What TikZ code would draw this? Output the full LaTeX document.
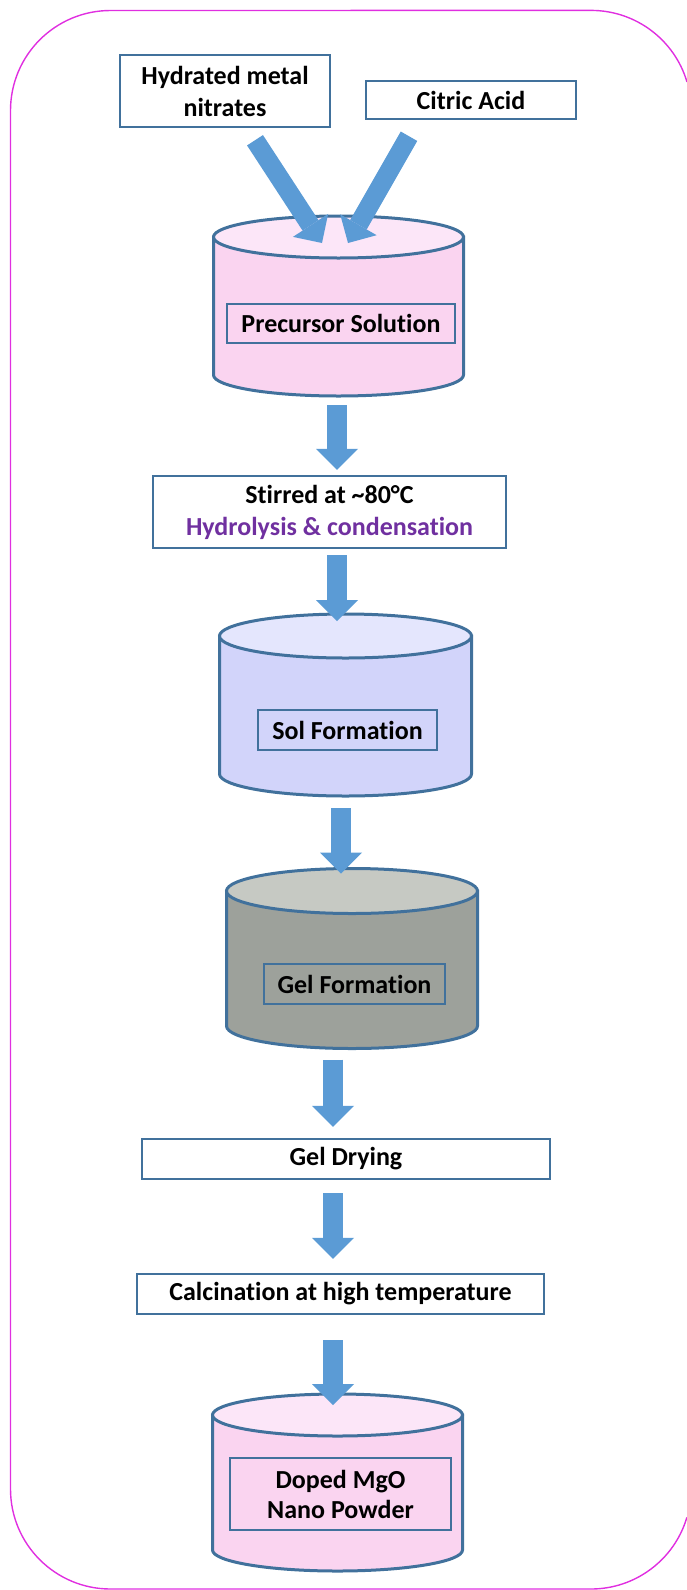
\documentclass[tikz,border=0pt]{standalone}
\usepackage{fontspec}
\setmainfont{Carlito}[Ligatures=NoCommon]
\usepackage{xcolor}
\definecolor{boxblue}{HTML}{41719C}
\definecolor{arrowblue}{HTML}{5B9BD5}
\definecolor{framepink}{HTML}{E02FE0}
\definecolor{pinkside}{HTML}{FAD4F0}
\definecolor{pinktop}{HTML}{FCE6F8}
\definecolor{lilacside}{HTML}{D2D4FA}
\definecolor{lilactop}{HTML}{E4E6FD}
\definecolor{greyside}{HTML}{9DA19B}
\definecolor{greytop}{HTML}{C6C9C3}
\definecolor{stepviolet}{HTML}{7030A0}
\usetikzlibrary{arrows.meta,positioning,calc}

\begin{document}
\begin{tikzpicture}[x=1pt,y=-1pt,
  stepbox/.style={draw=boxblue,line width=2.5pt,fill=white,align=center,inner sep=0pt,font=\bfseries\fontsize{26}{32}\selectfont},
  tagbox/.style={draw=boxblue,line width=1.8pt,align=center,inner sep=0pt,font=\bfseries\fontsize{26}{30}\selectfont},
  drumline/.style={draw=boxblue,line width=3pt},
  flow/.style={draw=arrowblue,line width=20pt,-{Triangle[width=42pt,length=21pt,line width=0pt]}}]
  \useasboundingbox (0,0) rectangle (687,1590);
  % outer frame, its right side runs off the page
  \draw[framepink,line width=1.4pt] (687,82) arc[start angle=-16.5,end angle=-90,radius=100]
    -- (110.5,10.5) arc[start angle=-90,end angle=-180,radius=100]
    -- (10.5,1489) arc[start angle=180,end angle=90,radius=100]
    -- (591,1589) arc[start angle=90,end angle=16.5,radius=100];

  % inputs
  \node[stepbox,minimum width=210pt,minimum height=72pt] (nitrates) at (225,91) {Hydrated metal\\nitrates};
  \node[stepbox,minimum width=210pt,minimum height=38pt] (citric) at (471,100) {Citric Acid};

  % precursor drum
  \filldraw[drumline,fill=pinkside] (213.5,237) -- (213.5,375) arc[start angle=180,end angle=0,x radius=125,y radius=21] -- (463.5,237) -- cycle;
  \filldraw[drumline,fill=pinktop] (338.5,237) ellipse[x radius=125,y radius=21];
  \coordinate (drumA-top) at (338.5,237);
  \coordinate (drumA-bot) at (338.5,396);
  \node[tagbox,fill=pinkside,minimum width=228pt,minimum height=39pt] (precursor) at (341,323.5) {Precursor Solution};
  \draw[flow,line width=19pt] ($(nitrates.south)+(30,12)$) -- ($(drumA-top)+(-16.5,6)$);
  \draw[flow,line width=19pt] ($(citric.south)+(-62,16)$) -- ($(drumA-top)+(9.5,6)$);

  % stirring
  \node[stepbox,minimum width=353pt,minimum height=72pt] (stir) at (329.5,512) {Stirred at \textasciitilde80°C\\\textcolor{stepviolet}{Hydrolysis \& condensation}};
  \draw[flow] ($(337,0 |- drumA-bot)+(0,9)$) -- ($(337,0 |- stir.north)+(0,-5)$);

  % sol drum
  \filldraw[drumline,fill=lilacside] (219.5,636) -- (219.5,774) arc[start angle=180,end angle=0,x radius=126,y radius=22] -- (471.5,636) -- cycle;
  \filldraw[drumline,fill=lilactop] (345.5,636) ellipse[x radius=126,y radius=22];
  \coordinate (drumB-top) at (345.5,614);
  \coordinate (drumB-bot) at (345.5,796);
  \node[tagbox,fill=lilacside,minimum width=179pt,minimum height=40pt] (sol) at (347.5,730) {Sol Formation};
  \draw[flow] ($(337,0 |- stir.south)+(0,6)$) -- ($(337,0 |- drumB-top)+(0,7)$);

  % gel drum
  \filldraw[drumline,fill=greyside] (226.5,891) -- (226.5,1026) arc[start angle=180,end angle=0,x radius=125.5,y radius=22.5] -- (477.5,891) -- cycle;
  \filldraw[drumline,fill=greytop] (352,891) ellipse[x radius=125.5,y radius=22.5];
  \coordinate (drumC-top) at (352,868.5);
  \coordinate (drumC-bot) at (352,1048.5);
  \node[tagbox,fill=greyside,minimum width=181pt,minimum height=40pt] (gel) at (354.5,984) {Gel Formation};
  \draw[flow] ($(341,0 |- drumB-bot)+(0,12)$) -- ($(341,0 |- drumC-top)+(0,5)$);

  % drying and calcination
  \node[stepbox,minimum width=408pt,minimum height=40pt] (drying) at (346,1159) {Gel Drying};
  \draw[flow] ($(333,0 |- drumC-bot)+(0,11)$) -- ($(333,0 |- drying.north)+(0,-11)$);
  \node[stepbox,minimum width=407pt,minimum height=40pt] (calcine) at (340.5,1294) {Calcination at high temperature};
  \draw[flow] ($(333,0 |- drying.south)+(0,13)$) -- ($(333,0 |- calcine.north)+(0,-14)$);

  % product drum
  \filldraw[drumline,fill=pinkside] (212.5,1415) -- (212.5,1550) arc[start angle=180,end angle=0,x radius=125,y radius=21] -- (462.5,1415) -- cycle;
  \filldraw[drumline,fill=pinktop] (337.5,1415) ellipse[x radius=125,y radius=21];
  \coordinate (drumD-top) at (337.5,1394);
  \node[tagbox,fill=pinkside,minimum width=221pt,minimum height=72pt] (powder) at (340.5,1494) {Doped MgO\\Nano Powder};
  \draw[flow] ($(333,0 |- calcine.south)+(0,25)$) -- ($(333,0 |- drumD-top)+(0,11)$);
\end{tikzpicture}
\end{document}
